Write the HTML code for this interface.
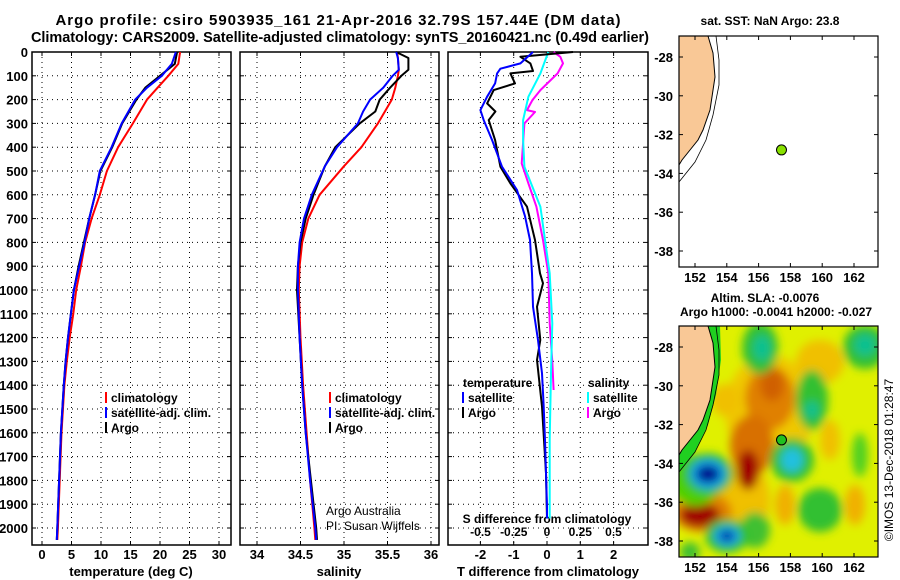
<!DOCTYPE html>
<html><head><meta charset="utf-8"><style>
body{margin:0;background:#fff}
svg{display:block;font-family:"Liberation Sans",sans-serif;font-weight:bold}
</style></head><body>
<svg id="c" width="900" height="580" viewBox="0 0 900 580" xmlns="http://www.w3.org/2000/svg">
<defs>
<filter id="blur" x="-50%" y="-50%" width="200%" height="200%"><feGaussianBlur stdDeviation="4.5"/></filter>
<clipPath id="map2clip"><rect x="679" y="326" width="199" height="231"/></clipPath>
</defs>
<text x="338" y="25" font-size="15" text-anchor="middle" textLength="565">Argo profile: csiro 5903935_161 21-Apr-2016 32.79S 157.44E (DM data)</text>
<text x="340" y="42" font-size="14.5" text-anchor="middle" textLength="618">Climatology: CARS2009. Satellite-adjusted climatology: synTS_20160421.nc (0.49d earlier)</text>
<g id="g"></g>
</svg>
<script>
// ---- data ----
const depthT = [0,50,100,150,200,300,400,500,600,700,800,900,1000,1100,1200,1300,1400,1600,1800,2000,2050];
const tempClim = [23.4,23.1,21.4,19.6,17.8,15.4,12.9,11.0,9.8,8.4,7.3,6.6,5.8,5.3,4.7,4.2,3.8,3.3,3.0,2.7,2.6];
const tempSat  = [22.7,22.0,20.3,17.8,15.8,13.5,11.8,9.8,9.0,8.0,7.2,6.3,5.4,4.9,4.4,4.0,3.7,3.2,2.9,2.6,2.5];
const tempArgo = [22.9,22.5,20.0,17.5,16.0,13.6,11.9,9.9,9.0,8.0,7.1,6.2,5.4,4.9,4.4,4.0,3.7,3.2,2.9,2.6,2.5];
const depthS = [0,25,75,100,150,200,250,300,400,480,600,700,800,900,1000,1200,1400,1600,1800,2000,2050];
const salClim = [35.61,35.62,35.63,35.62,35.59,35.55,35.47,35.39,35.20,35.00,34.72,34.59,34.52,34.49,34.48,34.50,34.53,34.57,34.61,34.66,34.67];
const salSat  = [35.60,35.62,35.63,35.56,35.45,35.30,35.22,35.16,34.92,34.78,34.63,34.54,34.49,34.47,34.47,34.49,34.52,34.56,34.61,34.67,34.68];
const salArgo = [35.60,35.74,35.74,35.66,35.53,35.41,35.36,35.18,34.90,34.78,34.65,34.56,34.50,34.47,34.46,34.49,34.52,34.56,34.62,34.68,34.69];
const depthDT = [0,48,70,90,132,188,244,286,370,482,580,690,790,930,1070,1210,1350,1490,1630,1770,1910,1960];
const dTsat  = [-0.42,-0.8,-1.4,-1.5,-1.56,-1.8,-2.0,-1.9,-1.65,-1.35,-0.9,-0.66,-0.51,-0.45,-0.42,-0.27,-0.15,-0.1,-0.06,-0.03,0,0];
const depthDA = [0,20,48,80,90,132,160,216,250,286,370,482,552,650,790,930,972,1070,1210,1294,1490,1770,1960];
const dTargo = [0.78,-0.8,-0.5,-0.42,-1.1,-0.96,-1.6,-1.8,-1.55,-1.75,-1.56,-1.4,-1.1,-0.6,-0.36,-0.21,-0.12,-0.3,-0.2,-0.3,-0.15,-0.03,0];
const depthDS = [0,90,188,286,370,482,580,650,790,930,1140,1350,1630,1960];
const dSsat  = [0.01,-0.05,-0.14,-0.18,-0.18,-0.17,-0.1,-0.05,-0.015,0.02,0.04,0.03,0.02,0.02];
const depthDSA = [0,20,48,90,160,202,244,252,300,468,552,650,790,930,1140,1300,1420];
const dSargo = [0.05,0.1,0.12,0.08,-0.05,-0.11,-0.15,-0.09,-0.17,-0.19,-0.14,-0.08,-0.03,0.01,0.02,0.04,0.05];
const depthTicks = [0,100,200,300,400,500,600,700,800,900,1000,1100,1200,1300,1400,1500,1600,1700,1800,1900,2000];
const tempTicks = [0,5,10,15,20,25,30];
const salTicks = [34,34.5,35,35.5,36];
const dTTicks = [-2,-1,0,1,2];
const dSTicks = [-0.5,-0.25,0,0.25,0.5];
const lonTicks = [152,154,156,158,160,162];
const latTicks = [-28,-30,-32,-34,-36,-38];
const floatLon = 157.44, floatLat = -32.79;

// ---- axes ----
const Y0=52, PXD=0.238, TOP=52, BOT=545;
const yD = d => Y0 + d*PXD;
const xT = t => 42 + t*5.9;
const xS = s => 257 + (s-34)*87;
const xDT = t => 547 + t*33.3;
const xDS = s => 547 + s*133;
const lonX = l => 695 + (l-152)*15.9;
const latY1 = a => 57 + (-28-a)*19.4;
const latY2 = a => 347 + (-28-a)*19.4;

const NS="http://www.w3.org/2000/svg", g=document.getElementById('g');
function mk(tag, attrs, parent){const e=document.createElementNS(NS,tag);for(const k in attrs)e.setAttribute(k,attrs[k]);(parent||g).appendChild(e);return e;}
function txt(x,y,s,size,anchor,parent){const e=mk('text',{x:x,y:y,'font-size':size,'text-anchor':anchor||'middle'},parent);e.textContent=s;return e;}

const panels=[{x0:32,x1:231,name:'temperature-panel'},{x0:240,x1:439,name:'salinity-panel'},{x0:448,x1:648,name:'difference-panel'}];
panels.forEach((p,i)=>{
  const pg=mk('g',{});
  
  
  depthTicks.forEach(d=>{
    mk('line',{x1:p.x0,x2:p.x1,y1:yD(d),y2:yD(d),stroke:'#000','stroke-dasharray':'1 4','stroke-width':1},pg);
    mk('line',{x1:p.x0,x2:p.x0+4,y1:yD(d),y2:yD(d),stroke:'#000'},pg);
    mk('line',{x1:p.x1-4,x2:p.x1,y1:yD(d),y2:yD(d),stroke:'#000'},pg);
  });
  let xt, fn;
  if(i==0){xt=tempTicks;fn=xT;} else if(i==1){xt=salTicks;fn=xS;} else {xt=dTTicks;fn=xDT;}
  xt.forEach(v=>{
    mk('line',{x1:fn(v),x2:fn(v),y1:TOP,y2:BOT,stroke:'#000','stroke-dasharray':'1 4'},pg);
    mk('line',{x1:fn(v),x2:fn(v),y1:BOT-4,y2:BOT,stroke:'#000'},pg);
    mk('line',{x1:fn(v),x2:fn(v),y1:TOP,y2:TOP+4,stroke:'#000'},pg);
    const t=txt(fn(v),559,String(v),13,'middle',pg);
    
    
  });
  mk('rect',{x:p.x0,y:TOP,width:p.x1-p.x0,height:BOT-TOP,fill:'none',stroke:'#000','stroke-width':1.5},pg);
});
const yl=mk('g',{});


depthTicks.forEach(d=>{txt(28,yD(d)+5,String(d),13,'end',yl);});
[[131,'temperature (deg C)'],[339,'salinity'],[548,'T difference from climatology']].forEach(a=>{
  const t=txt(a[0],576,a[1],13);
  
  
});
dSTicks.forEach(v=>{const t=txt(xDS(v),536,String(v),12);
  
  
});
const sdt=txt(547,523,'S difference from climatology',12);



function line(xs,ds,fx,color,name){
  const pts=xs.map((v,i)=>fx(v).toFixed(1)+','+yD(ds[i]).toFixed(1)).join(' ');
  const e=mk('polyline',{points:pts,fill:'none',stroke:color,'stroke-width':2,'stroke-linejoin':'round'});
  
  
}
line(tempClim,depthT,xT,'#f00','temp-climatology-line');
line(tempArgo,depthT,xT,'#000','temp-argo-line');
line(tempSat,depthT,xT,'#00f','temp-satellite-line');
line(salClim,depthS,xS,'#f00','sal-climatology-line');
line(salArgo,depthS,xS,'#000','sal-argo-line');
line(salSat,depthS,xS,'#00f','sal-satellite-line');
line(dSargo,depthDSA,xDS,'#f0f','sdiff-argo-line');
line(dSsat,depthDS,xDS,'#0ff','sdiff-satellite-line');
line(dTargo,depthDA,xDT,'#000','tdiff-argo-line');
line(dTsat,depthDT,xDT,'#00f','tdiff-satellite-line');

function legend(x,y,items,name){
  const lg=mk('g',{});
  
  
  items.forEach((it,i)=>{
    if(it[0]) mk('line',{x1:x,x2:x,y1:y+i*15-10,y2:y+i*15+1,stroke:it[0],'stroke-width':2},lg);
    txt(x+(it[0]?5:0),y+i*15,it[1],12,'start',lg);
  });
}
legend(106,402,[['#f00','climatology'],['#00f','satellite-adj. clim.'],['#000','Argo']],'temperature-legend');
legend(330,402,[['#f00','climatology'],['#00f','satellite-adj. clim.'],['#000','Argo']],'salinity-legend');
legend(463,387,[[null,'temperature'],['#00f','satellite'],['#000','Argo']],'tdiff-legend');
legend(588,387,[[null,'salinity'],['#0ff','satellite'],['#f0f','Argo']],'sdiff-legend');
const cr=mk('g',{});


const c1=txt(326,515,'Argo Australia',12,'start',cr); c1.setAttribute('font-weight','normal');
const c2=txt(326,530,'PI: Susan Wijffels',12,'start',cr); c2.setAttribute('font-weight','normal');

// ---- maps ----
function mapFrame(y0,latY,name){
  const mg=mk('g',{});
  
  
  lonTicks.forEach(l=>{
    mk('line',{x1:lonX(l),x2:lonX(l),y1:y0,y2:y0+4,stroke:'#000'},mg);
    mk('line',{x1:lonX(l),x2:lonX(l),y1:y0+231-4,y2:y0+231,stroke:'#000'},mg);
    txt(lonX(l),y0+231+15,String(l),13,'middle',mg);
  });
  latTicks.forEach(a=>{
    mk('line',{x1:679,x2:683,y1:latY(a),y2:latY(a),stroke:'#000'},mg);
    mk('line',{x1:874,x2:878,y1:latY(a),y2:latY(a),stroke:'#000'},mg);
    txt(673,latY(a)+5,String(a),13,'end',mg);
  });
  mk('rect',{x:679,y:y0,width:199,height:231,fill:'none',stroke:'#000','stroke-width':1.2},mg);
}
// map 1
const coast1='679,36 708,36 713,53 715,77 710,110 703,130 698,140 690,150 682,160 679,165';
const l1=mk('polygon',{points:coast1,fill:'#f9c896',stroke:'#000','stroke-width':1});
 
mk('polyline',{points:'716,36 719,60 719,85 713,115 706,140 695,162 679,182',fill:'none',stroke:'#000','stroke-width':0.8});
mapFrame(36,latY1,'sst-map');
const p1=mk('circle',{cx:lonX(floatLon),cy:latY1(floatLat),r:5,fill:'#88e000',stroke:'#000'});
 
txt(770,25,'sat. SST: NaN Argo: 23.8',12);
// map 2 SLA
const hm=mk('g',{'clip-path':'url(#map2clip)'});
 
mk('rect',{x:679,y:326,width:199,height:231,fill:'#e0f000'},hm);
const bl=mk('g',{filter:'url(#blur)'},hm);
[['#f0c800',770,410,45,55],['#f0c000',820,362,24,22],['#f0c000',725,400,14,16],['#f0b000',785,505,10,20],['#f0b000',855,505,10,20],['#f0c000',740,500,30,40],['#f0c000',830,440,10,20],
 ['#e08000',770,398,25,32],['#d87000',752,445,22,30],['#d06000',772,385,12,16],['#a00000',748,470,11,20],['#e08000',702,512,30,20],['#a00000',700,515,20,12],
 ['#30c030',760,348,18,26],['#10c090',762,348,9,13],['#30c030',865,347,22,22],['#10c090',865,345,11,11],['#30c030',812,400,16,30],['#10c090',812,410,7,9],
 ['#30c030',792,460,22,22],['#20c0e0',792,460,11,12],['#30c030',820,510,22,22],['#50d020',860,455,8,22],['#40c030',755,530,15,18],['#50d000',695,480,26,26],
 ['#30c030',708,474,25,21],['#10a0f0',708,474,18,15],['#001090',708,474,12,9],['#30c030',727,536,22,17],['#10a0f0',727,536,13,10],['#001090',727,536,7,5],['#40c030',690,552,10,10]
].forEach(b=>mk('ellipse',{cx:b[1],cy:b[2],rx:b[3],ry:b[4],fill:b[0]},bl));
const coast2='679,326 708,326 713,343 715,367 710,400 703,420 698,430 690,440 682,450 679,455';
mk('polygon',{points:'679,326 720,326 721,360 716,395 708,425 695,452 679,472',fill:'#20d020'},hm);
const l2=mk('polygon',{points:coast2,fill:'#f9c896',stroke:'#000','stroke-width':1},hm);
 
mk('polyline',{points:'716,326 719,350 719,375 713,405 706,430 695,452 679,472',fill:'none',stroke:'#000','stroke-width':0.8},hm);
mapFrame(326,latY2,'sla-map');
const p2=mk('circle',{cx:lonX(floatLon),cy:latY2(floatLat),r:5,fill:'#20c020',stroke:'#000'});
 
txt(765,302,'Altim. SLA: -0.0076',12);
txt(776,316,'Argo h1000: -0.0041 h2000: -0.027',12);
const cp=txt(0,0,'©IMOS 13-Dec-2018 01:28:47',12);
cp.setAttribute('font-weight','normal');
cp.setAttribute('transform','translate(893,460) rotate(-90)');


</script>
</body></html>
